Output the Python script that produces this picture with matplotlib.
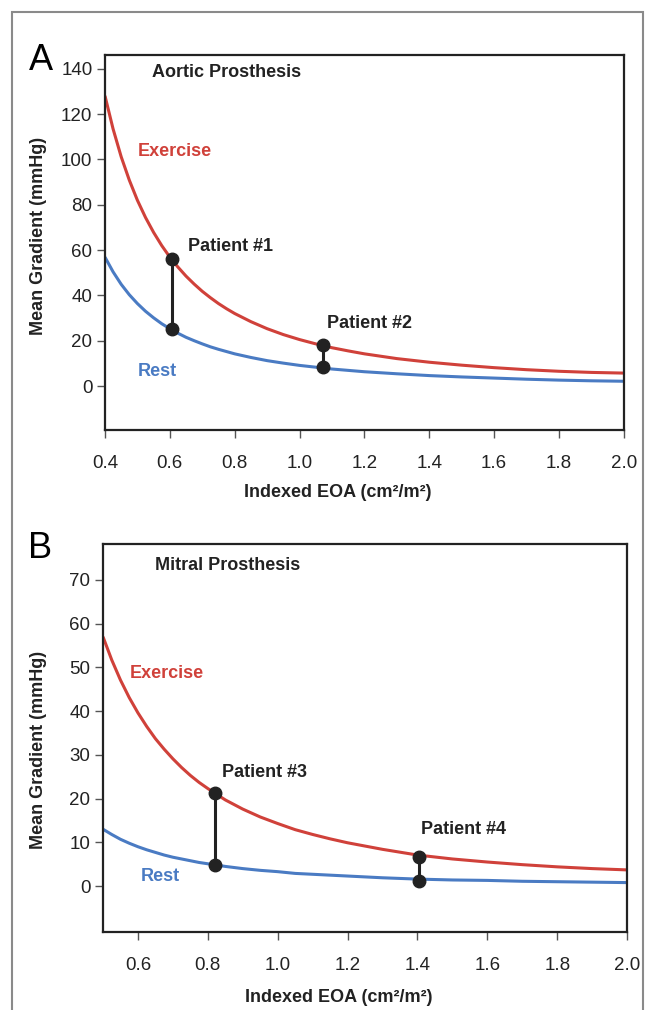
import matplotlib

matplotlib.use("Agg")
import matplotlib.pyplot as plt
from matplotlib.patches import Rectangle
from matplotlib.ticker import FormatStrFormatter

plt.rcParams["font.family"] = ["Liberation Sans", "DejaVu Sans"]

RED = "#d0413a"
BLUE = "#4a7bc3"
INK = "#222222"

# panel A: aortic prosthesis
aortic_eoa = [0.400, 0.425, 0.450, 0.475, 0.500, 0.525, 0.550, 0.575, 0.600, 0.625,
              0.650, 0.675, 0.700, 0.725, 0.750, 0.775, 0.800, 0.850, 0.900, 0.950,
              1.000, 1.050, 1.100, 1.150, 1.200, 1.300, 1.400, 1.500, 1.600, 1.700,
              1.800, 1.900, 2.000]
aortic_exercise = [128.1, 113.5, 101.2, 90.9, 82.0, 74.4, 67.8, 62.0, 56.9, 52.5,
                   48.5, 45.0, 41.8, 39.0, 36.4, 34.1, 32.0, 28.4, 25.3, 22.7,
                   20.5, 18.6, 16.9, 15.5, 14.2, 12.1, 10.5, 9.2, 8.1, 7.2,
                   6.5, 6.0, 5.7]
aortic_rest = [56.9, 50.4, 44.9, 40.3, 36.4, 33.0, 30.1, 27.5, 25.3, 23.3,
               21.5, 20.0, 18.6, 17.3, 16.2, 15.2, 14.2, 12.6, 11.2, 10.1,
               9.1, 8.3, 7.5, 6.9, 6.3, 5.4, 4.6, 4.0, 3.5, 3.0,
               2.6, 2.3, 2.1]
aortic_patients = ["Patient #1", "Patient #2"]
aortic_pat_eoa = [0.607, 1.073]
aortic_pat_rest = [25.0, 8.2]
aortic_pat_ex = [56.0, 18.0]

# panel B: mitral prosthesis
mitral_eoa = [0.500, 0.525, 0.550, 0.575, 0.600, 0.625, 0.650, 0.675, 0.700, 0.725,
              0.750, 0.775, 0.800, 0.850, 0.900, 0.950, 1.000, 1.050, 1.100, 1.150,
              1.200, 1.300, 1.400, 1.500, 1.600, 1.700, 1.800, 1.900, 2.000]
mitral_exercise = [57.0, 51.7, 47.1, 43.1, 39.6, 36.5, 33.7, 31.3, 29.1, 27.1,
                   25.3, 23.7, 22.3, 19.7, 17.6, 15.8, 14.3, 12.9, 11.8, 10.8,
                   9.9, 8.4, 7.1, 6.2, 5.5, 4.9, 4.4, 4.0, 3.7]
mitral_rest = [13.0, 11.8, 10.7, 9.8, 9.0, 8.3, 7.7, 7.1, 6.6, 6.2,
               5.8, 5.4, 5.1, 4.5, 4.0, 3.6, 3.3, 2.9, 2.7, 2.5,
               2.3, 1.9, 1.6, 1.4, 1.3, 1.1, 1.0, 0.9, 0.8]
mitral_patients = ["Patient #3", "Patient #4"]
mitral_pat_eoa = [0.82, 1.405]
mitral_pat_rest = [4.8, 1.2]
mitral_pat_ex = [21.3, 6.6]


def draw_panel(ax, eoa, ex, rest, pat_eoa, pat_rest, pat_ex):
    ax.plot(eoa, ex, color=RED, lw=2.2, solid_capstyle="butt", zorder=2)
    ax.plot(eoa, rest, color=BLUE, lw=2.2, solid_capstyle="butt", zorder=2)
    for x, r, e in zip(pat_eoa, pat_rest, pat_ex):
        ax.plot([x, x], [r, e], color=INK, lw=2.2, marker="o", ms=9,
                mfc=INK, mec=INK, zorder=3)
    for s in ax.spines.values():
        s.set_linewidth(1.6)
        s.set_color(INK)
    ax.tick_params(direction="out", length=6, width=1.0, color="#555555",
                   labelsize=13.5, labelcolor=INK)
    ax.tick_params(axis="x", pad=12)
    ax.tick_params(axis="y", pad=3)
    ax.xaxis.set_major_formatter(FormatStrFormatter("%.1f"))
    ax.set_ylabel("Mean Gradient (mmHg)", fontsize=13, fontweight="bold", color=INK)
    ax.set_xlabel("Indexed EOA (cm²/m²)", fontsize=13, fontweight="bold", color=INK)


def label(ax, x, y, text, color=INK):
    ax.text(x, y, text, fontsize=13, fontweight="bold", color=color, va="center")


fig = plt.figure(figsize=(6.56, 10.10), dpi=100, facecolor="white")

axA = fig.add_axes([0.160, 0.5743, 0.791, 0.371])
draw_panel(axA, aortic_eoa, aortic_exercise, aortic_rest,
           aortic_pat_eoa, aortic_pat_rest, aortic_pat_ex)
axA.set_xlim(0.4, 2.0)
axA.set_ylim(-19.4, 146)
axA.set_xticks([0.4, 0.6, 0.8, 1.0, 1.2, 1.4, 1.6, 1.8, 2.0])
axA.set_yticks(range(0, 141, 20))
axA.yaxis.set_label_coords(-0.112, 0.517)
axA.xaxis.set_label_coords(0.448, -0.145)
label(axA, 0.545, 138.6, "Aortic Prosthesis")
label(axA, 0.502, 103.7, "Exercise", RED)
label(axA, 0.502, 6.2, "Rest", BLUE)
label(axA, 0.656, 61.4, aortic_patients[0])
label(axA, 1.086, 27.8, aortic_patients[1])

axB = fig.add_axes([0.157, 0.0772, 0.799, 0.3842])
draw_panel(axB, mitral_eoa, mitral_exercise, mitral_rest,
           mitral_pat_eoa, mitral_pat_rest, mitral_pat_ex)
axB.set_xlim(0.5, 2.0)
axB.set_ylim(-10.5, 78.2)
axB.set_xticks([0.6, 0.8, 1.0, 1.2, 1.4, 1.6, 1.8, 2.0])
axB.set_yticks(range(0, 71, 10))
axB.yaxis.set_label_coords(-0.107, 0.469)
axB.xaxis.set_label_coords(0.45, -0.147)
label(axB, 0.649, 73.2, "Mitral Prosthesis")
label(axB, 0.577, 48.5, "Exercise", RED)
label(axB, 0.609, 2.1, "Rest", BLUE)
label(axB, 0.841, 25.9, mitral_patients[0])
label(axB, 1.411, 13.0, mitral_patients[1])

fig.text(40.5 / 656, 1 - 60 / 1010, "A", fontsize=26, color="black", ha="center", va="center")
fig.text(40.5 / 656, 1 - 549 / 1010, "B", fontsize=26, color="black", ha="center", va="center")

# outer frame of the figure
fig.patches.append(Rectangle((12 / 656, -0.05), (643 - 12) / 656, 1 - 12 / 1010 + 0.05,
                             transform=fig.transFigure, fill=False,
                             edgecolor="#8a8a8a", lw=1.5))

fig.savefig("out.png", dpi=100, facecolor="white")
plt.close(fig)
